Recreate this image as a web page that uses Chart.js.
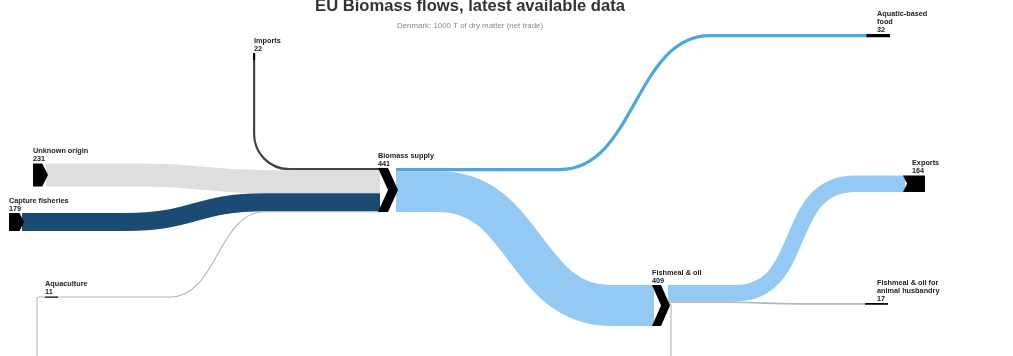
<!DOCTYPE html>
<html>
<head>
<meta charset="utf-8">
<title>EU Biomass flows</title>
<script src="https://cdn.jsdelivr.net/npm/chart.js@4.4.1/dist/chart.umd.min.js"></script>
<style>
  body { margin: 0; background: #fff; }
  #wrap { width: 1013px; height: 356px; position: relative; }
</style>
</head>
<body>
<div id="wrap"><canvas id="flowChart"></canvas></div>
<script>
const chartTitle = 'EU Biomass flows, latest available data';
const chartSubtitle = 'Denmark: 1000 T of dry matter (net trade)';

const nodeNames = ['Unknown origin', 'Capture fisheries', 'Aquaculture', 'Imports', 'Biomass supply',
  'Aquatic-based food', 'Fishmeal & oil', 'Exports', 'Fishmeal & oil for animal husbandry'];
const nodeValues = [231, 179, 11, 22, 441, 32, 409, 164, 17];

const linkFrom = [3, 0, 1, 2, 4, 4, 6, 6, 6];
const linkTo = [4, 4, 4, 4, 5, 6, 7, 8, 2];
const linkValues = [22, 231, 179, 11, 32, 409, 164, 17, 11];

// layout: x in px, y in thousand tonnes (10 units = 1px)
const nodeX = [33, 9, 45, 253, 378, 866, 652, 903, 865];
const nodeTop = [1635, 2130, 2965, 530, 1680, 340, 2850, 1755, 3030];
const nodeW = [15, 15, 13, 0, 20, 24, 18, 22, 23];
const nodeVertical = [false, false, false, true, false, false, false, false, false];
const labelDx = [0, 0, 0, 1, 0, 11, 0, 9, 12];

const linkKind = ['drop', 'curve', 'curve', 'curve', 'curve', 'curve', 'curve', 'curve', 'loop'];
const linkBend = [[0, 35], [140, 270], [125, 265], [170, 265], [560, 710], [440, 610], [735, 855], [730, 800], [37, 4000]];
const linkTension = [0, 0.5, 0.5, 0.5, 0.5, 0.5, 0.62, 0.5, 0];
const linkColors = ['#444444', '#dedede', '#1b4a73', '#b5b5b5', '#4ba7de', '#93c9f2', '#93c9f2', '#b5b5b5', '#b5b5b5'];

const FONT = '"Liberation Sans", Arial, sans-serif';

function wrapLabel(ctx, text, maxWidth) {
  const words = text.split(' ');
  let lines = [];
  let line = '';
  words.forEach(function (w) {
    const test = line ? line + ' ' + w : w;
    if (line && ctx.measureText(test).width > maxWidth) {
      lines.push(line);
      line = w;
    } else {
      line = test;
    }
  });
  lines.push(line);
  return lines;
}

function nodeShape(ctx, x, top, w, h, hasIn, hasOut) {
  const d = Math.min(w / 2, h * 0.25);
  const mid = top + h / 2;
  ctx.beginPath();
  ctx.moveTo(x, top);
  if (hasOut) {
    ctx.lineTo(x + w - d, top);
    ctx.lineTo(x + w, mid);
    ctx.lineTo(x + w - d, top + h);
  } else {
    ctx.lineTo(x + w, top);
    ctx.lineTo(x + w, top + h);
  }
  ctx.lineTo(x, top + h);
  if (hasIn) ctx.lineTo(x + d, mid);
  ctx.closePath();
  ctx.fill();
}

const flowPlugin = {
  id: 'flows',
  afterDatasetsDraw(chart) {
    const ctx = chart.ctx;
    const xs = chart.scales.x;
    const ys = chart.scales.y;
    const k = ys.getPixelForValue(1) - ys.getPixelForValue(0);

    // node boxes in pixels
    const boxes = nodeNames.map(function (name, i) {
      const h = nodeValues[i] * k;
      const left = xs.getPixelForValue(nodeX[i]);
      const top = ys.getPixelForValue(nodeTop[i]);
      if (nodeVertical[i]) {
        return { x: left, y: top, w: h, h: 7, vertical: true };
      }
      return { x: left, y: top, w: nodeW[i], h: h };
    });

    const outOffset = nodeNames.map(() => 0);
    const inOffset = nodeNames.map(() => 0);

    ctx.save();
    ctx.lineCap = 'butt';
    ctx.lineJoin = 'round';
    linkValues.forEach(function (v, i) {
      const s = boxes[linkFrom[i]];
      const t = boxes[linkTo[i]];
      const lw = v * k;
      const y1 = t.y + inOffset[linkTo[i]] + lw / 2;
      inOffset[linkTo[i]] += lw;
      ctx.strokeStyle = linkColors[i];
      ctx.lineWidth = Math.max(lw, 1);
      ctx.beginPath();
      if (linkKind[i] === 'drop') {
        const cx = s.x + s.w / 2;
        const r = linkBend[i][1];
        ctx.moveTo(cx, s.y + s.h);
        ctx.lineTo(cx, y1 - r);
        ctx.arcTo(cx, y1, cx + r, y1, r);
        ctx.lineTo(t.x + 2, y1);
      } else if (linkKind[i] === 'loop') {
        const y0 = s.y + outOffset[linkFrom[i]] + lw / 2;
        const x0 = s.x + s.w;
        const xl = xs.getPixelForValue(linkBend[i][0]);
        const yb = ys.getPixelForValue(linkBend[i][1]);
        ctx.moveTo(x0 - 2, y0);
        ctx.arcTo(x0 + 1, y0, x0 + 1, yb, 2);
        ctx.lineTo(x0 + 1, yb);
        ctx.lineTo(xl, yb);
        ctx.lineTo(xl, y1 + 2);
        ctx.arcTo(xl, y1, xl + 2, y1, 2);
        ctx.lineTo(t.x + 1, y1);
      } else {
        const y0 = s.y + outOffset[linkFrom[i]] + lw / 2;
        const x0 = s.x + s.w - 2;
        const b0 = xs.getPixelForValue(linkBend[i][0]);
        const b1 = xs.getPixelForValue(linkBend[i][1]);
        const a = (b1 - b0) * linkTension[i];
        ctx.moveTo(x0, y0);
        ctx.lineTo(b0, y0);
        ctx.bezierCurveTo(b0 + a, y0, b1 - a, y1, b1, y1);
        ctx.lineTo(t.x + 2, y1);
      }
      ctx.stroke();
      outOffset[linkFrom[i]] += lw;
    });

    // nodes
    ctx.fillStyle = '#000';
    boxes.forEach(function (b, i) {
      const hasIn = linkTo.indexOf(i) >= 0;
      const hasOut = linkFrom.indexOf(i) >= 0;
      if (b.vertical) {
        ctx.fillRect(b.x, b.y, b.w, b.h);
      } else {
        nodeShape(ctx, b.x, b.y, b.w, Math.max(b.h, 1.2), hasIn, hasOut);
      }
    });

    // labels
    ctx.font = 'bold 7.3px ' + FONT;
    ctx.fillStyle = '#222';
    ctx.textAlign = 'left';
    ctx.textBaseline = 'alphabetic';
    boxes.forEach(function (b, i) {
      const lines = wrapLabel(ctx, nodeNames[i], 65).concat([String(nodeValues[i])]);
      const lx = b.x + labelDx[i];
      let ly = b.y - 2.5 - (lines.length - 1) * 8;
      lines.forEach(function (line) {
        ctx.fillText(line, lx, ly);
        ly += 8;
      });
    });
    ctx.restore();
  },
  afterDraw(chart) {
    const ctx = chart.ctx;
    const cx = chart.width * 0.464;
    ctx.save();
    ctx.textAlign = 'center';
    ctx.textBaseline = 'alphabetic';
    ctx.fillStyle = '#333';
    ctx.font = 'bold 16.6px ' + FONT;
    ctx.fillText(chartTitle, cx, 11);
    ctx.fillStyle = '#888';
    ctx.font = '7.9px ' + FONT;
    ctx.fillText(chartSubtitle, cx, 28);
    ctx.restore();
  }
};

const ctx = document.getElementById('flowChart');
const flowChart = new Chart(ctx, {
  type: 'scatter',
  data: {
    datasets: [{
      data: nodeX.map(function (x, i) { return { x: x, y: nodeTop[i] }; }),
      pointRadius: 0
    }]
  },
  options: {
    responsive: true,
    maintainAspectRatio: false,
    animation: false,
    events: [],
    layout: { padding: 0 },
    plugins: {
      legend: { display: false },
      tooltip: { enabled: false }
    },
    scales: {
      x: { display: false, min: 0, max: 1013 },
      y: { display: false, min: 0, max: 3560, reverse: true }
    }
  },
  plugins: [flowPlugin]
});
</script>
</body>
</html>
